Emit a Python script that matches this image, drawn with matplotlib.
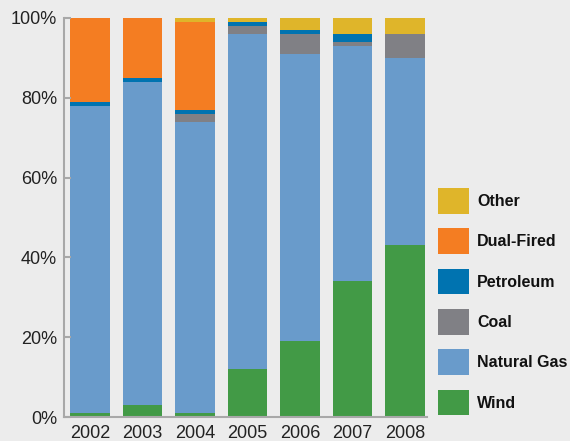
import matplotlib.pyplot as plt
import numpy as np

plt.rcParams['font.family'] = ['Liberation Sans', 'DejaVu Sans']

# anos e participacao (%) de cada fonte
years = ['2002', '2003', '2004', '2005', '2006', '2007', '2008']
wind = [1, 3, 1, 12, 19, 34, 43]
natural_gas = [77, 81, 73, 84, 72, 59, 47]
coal = [0, 0, 2, 2, 5, 1, 6]
petroleum = [1, 1, 1, 1, 1, 2, 0]
dual_fired = [21, 15, 22, 0, 0, 0, 0]
other = [0, 0, 1, 1, 3, 4, 4]

series = [
    ('Wind', wind, '#429a46'),
    ('Natural Gas', natural_gas, '#699bcb'),
    ('Coal', coal, '#808085'),
    ('Petroleum', petroleum, '#0073b0'),
    ('Dual-Fired', dual_fired, '#f47d22'),
    ('Other', other, '#dfb52a'),
]

bg = '#ececec'
fig = plt.figure(figsize=(5.7, 4.41), dpi=100, facecolor=bg)
ax = fig.add_axes([64 / 570, 24 / 441, 363 / 570, 399 / 441], facecolor=bg)

x = np.arange(len(years))
bottom = np.zeros(len(years))
handles = []
for name, vals, cor in series:
    b = ax.bar(x, vals, 0.76, bottom=bottom, color=cor, label=name, linewidth=0)
    handles.append(b)
    bottom += np.array(vals)

ax.set_xlim(-0.495, 6.42)
ax.set_ylim(0, 100)
ax.set_xticks(x)
ax.set_xticklabels(years)
ax.set_yticks([0, 20, 40, 60, 80, 100])
ax.set_yticklabels(['0%', '20%', '40%', '60%', '80%', '100%'])

for s in ['top', 'right']:
    ax.spines[s].set_visible(False)
for s in ['left', 'bottom']:
    ax.spines[s].set_color('#a8a8a8')
    ax.spines[s].set_linewidth(1.5)

ax.tick_params(axis='y', direction='in', length=5, width=1.5, color='#a8a8a8',
               labelsize=13, labelcolor='#222222', pad=5)
ax.tick_params(axis='x', length=0, labelsize=13, labelcolor='#222222', pad=6)

leg = fig.legend(handles[::-1], [s[0] for s in series][::-1],
                 loc='upper left', bbox_to_anchor=(438 / 570, 1 - 188 / 441),
                 frameon=False, borderpad=0, borderaxespad=0,
                 handlelength=1.95, handleheight=2.08, handletextpad=0.5,
                 labelspacing=0.93, prop={'weight': 'bold', 'size': 11.5})
for t in leg.get_texts():
    t.set_color('#111111')

fig.savefig('out.png', dpi=100, facecolor=bg)
